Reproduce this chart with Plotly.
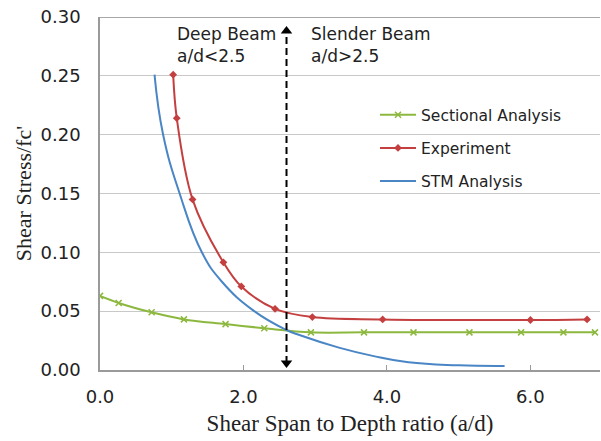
import plotly.graph_objects as go

# Data
sec_x = [0.0, 0.26, 0.72, 1.17, 1.75, 2.29, 2.94, 3.68, 4.37, 5.15, 5.87, 6.46, 6.9]
sec_y = [0.063, 0.057, 0.049, 0.043, 0.039, 0.0355, 0.032, 0.032, 0.032, 0.032, 0.032, 0.032, 0.032]

exp_x = [1.02, 1.07, 1.29, 1.72, 1.97, 2.44, 2.96, 3.94, 6.0, 6.79]
exp_y = [0.251, 0.214, 0.145, 0.0915, 0.071, 0.052, 0.045, 0.043, 0.0425, 0.043]

stm_x = [0.76, 0.88, 1.11, 1.42, 1.7, 2.15, 2.6, 2.78, 3.33, 3.8, 4.3, 5.0, 5.64]
stm_y = [0.251, 0.20, 0.15, 0.10, 0.075, 0.05, 0.034, 0.0297, 0.019, 0.012, 0.0065, 0.004, 0.0035]

divider_x = 2.6
divider_y = [0.006, 0.288]
y_ticks = [0.0, 0.05, 0.10, 0.15, 0.20, 0.25, 0.30]
x_ticks = [0.0, 2.0, 4.0, 6.0]

GREEN = "#8DB83F"
RED = "#C43F3F"
BLUE = "#4A86C5"
SANS = "DejaVu Sans"
SERIF = "Liberation Serif"

fig = go.Figure()
fig.add_trace(go.Scatter(x=sec_x, y=sec_y, mode="lines+markers", name="Sectional Analysis",
                         line=dict(color=GREEN, width=2, shape="spline", smoothing=1.0),
                         marker=dict(symbol="x-thin", size=6, line=dict(color=GREEN, width=1.5)),
                         legendgroup="a"))
fig.add_trace(go.Scatter(x=exp_x, y=exp_y, mode="lines+markers", name="Experiment",
                         line=dict(color=RED, width=2, shape="spline", smoothing=1.0),
                         marker=dict(symbol="diamond", size=6, color=RED),
                         legendgroup="b"))
fig.add_trace(go.Scatter(x=stm_x, y=stm_y, mode="lines", name="STM Analysis",
                         line=dict(color=BLUE, width=2, shape="spline", smoothing=1.3),
                         legendgroup="c"))

# top frame line
fig.add_shape(type="line", xref="paper", x0=0, x1=1, yref="y", y0=0.30, y1=0.30,
              line=dict(color="#8a8a8a", width=1.5), layer="below")

# dashed divider with arrowheads at both ends
fig.add_shape(type="line", x0=divider_x, x1=divider_x, y0=divider_y[0], y1=divider_y[1],
              line=dict(color="black", width=2, dash="7px,4px"))
fig.add_trace(go.Scatter(x=[divider_x, divider_x], y=divider_y, mode="markers",
                         marker=dict(symbol=["triangle-down", "triangle-up"], size=10, color="black"),
                         showlegend=False, hoverinfo="skip", cliponaxis=False))

fig.add_annotation(x=divider_x, y=0.30, xref="x", yref="y", xanchor="right", yanchor="top",
                   xshift=-9, yshift=-5, text="Deep Beam<br>a/d&lt;2.5", showarrow=False, align="left",
                   font=dict(family=SANS, size=17, color="#222"))
fig.add_annotation(x=divider_x, y=0.30, xref="x", yref="y", xanchor="left", yanchor="top",
                   xshift=22, yshift=-5, text="Slender Beam<br>a/d&gt;2.5", showarrow=False, align="left",
                   font=dict(family=SANS, size=17, color="#222"))

fig.update_layout(
    width=601, height=441,
    margin=dict(l=100, r=1, t=17, b=71),
    paper_bgcolor="white", plot_bgcolor="white",
    showlegend=True,
    legend=dict(x=0.55, y=0.77, xanchor="left", yanchor="top", bgcolor="rgba(0,0,0,0)",
                font=dict(family=SANS, size=15.5, color="#222"), tracegroupgap=10,
                itemwidth=36),
    xaxis=dict(range=[0, 6.97], tickvals=x_ticks, ticktext=["0.0", "2.0", "4.0", "6.0"],
               automargin=False,
               showgrid=False, zeroline=False, showline=True, linecolor="#9a9a9a", linewidth=1.5,
               ticks="inside", ticklen=5, tickcolor="#9a9a9a",
               tickfont=dict(family=SANS, size=18, color="#222"), ticklabelstandoff=10,
               title=dict(text="Shear Span to Depth ratio (a/d)",
                          font=dict(family=SERIF, size=23, color="#222"), standoff=9)),
    yaxis=dict(range=[0, 0.30], tickvals=y_ticks,
               ticktext=["0.00", "0.05", "0.10", "0.15", "0.20", "0.25", "0.30"],
               automargin=False,
               showgrid=True, gridcolor="#c8c8c8", gridwidth=1.2, zeroline=False,
               showline=True, linecolor="#9a9a9a", linewidth=1.5, ticks="",
               tickfont=dict(family=SANS, size=18, color="#222"), ticklabelstandoff=14,
               title=dict(text="Shear Stress/fc'",
                          font=dict(family=SERIF, size=22, color="#222"), standoff=3)),
)

fig.write_html("out.html", config={"displayModeBar": False},
               post_script="document.body.style.margin='0';")
